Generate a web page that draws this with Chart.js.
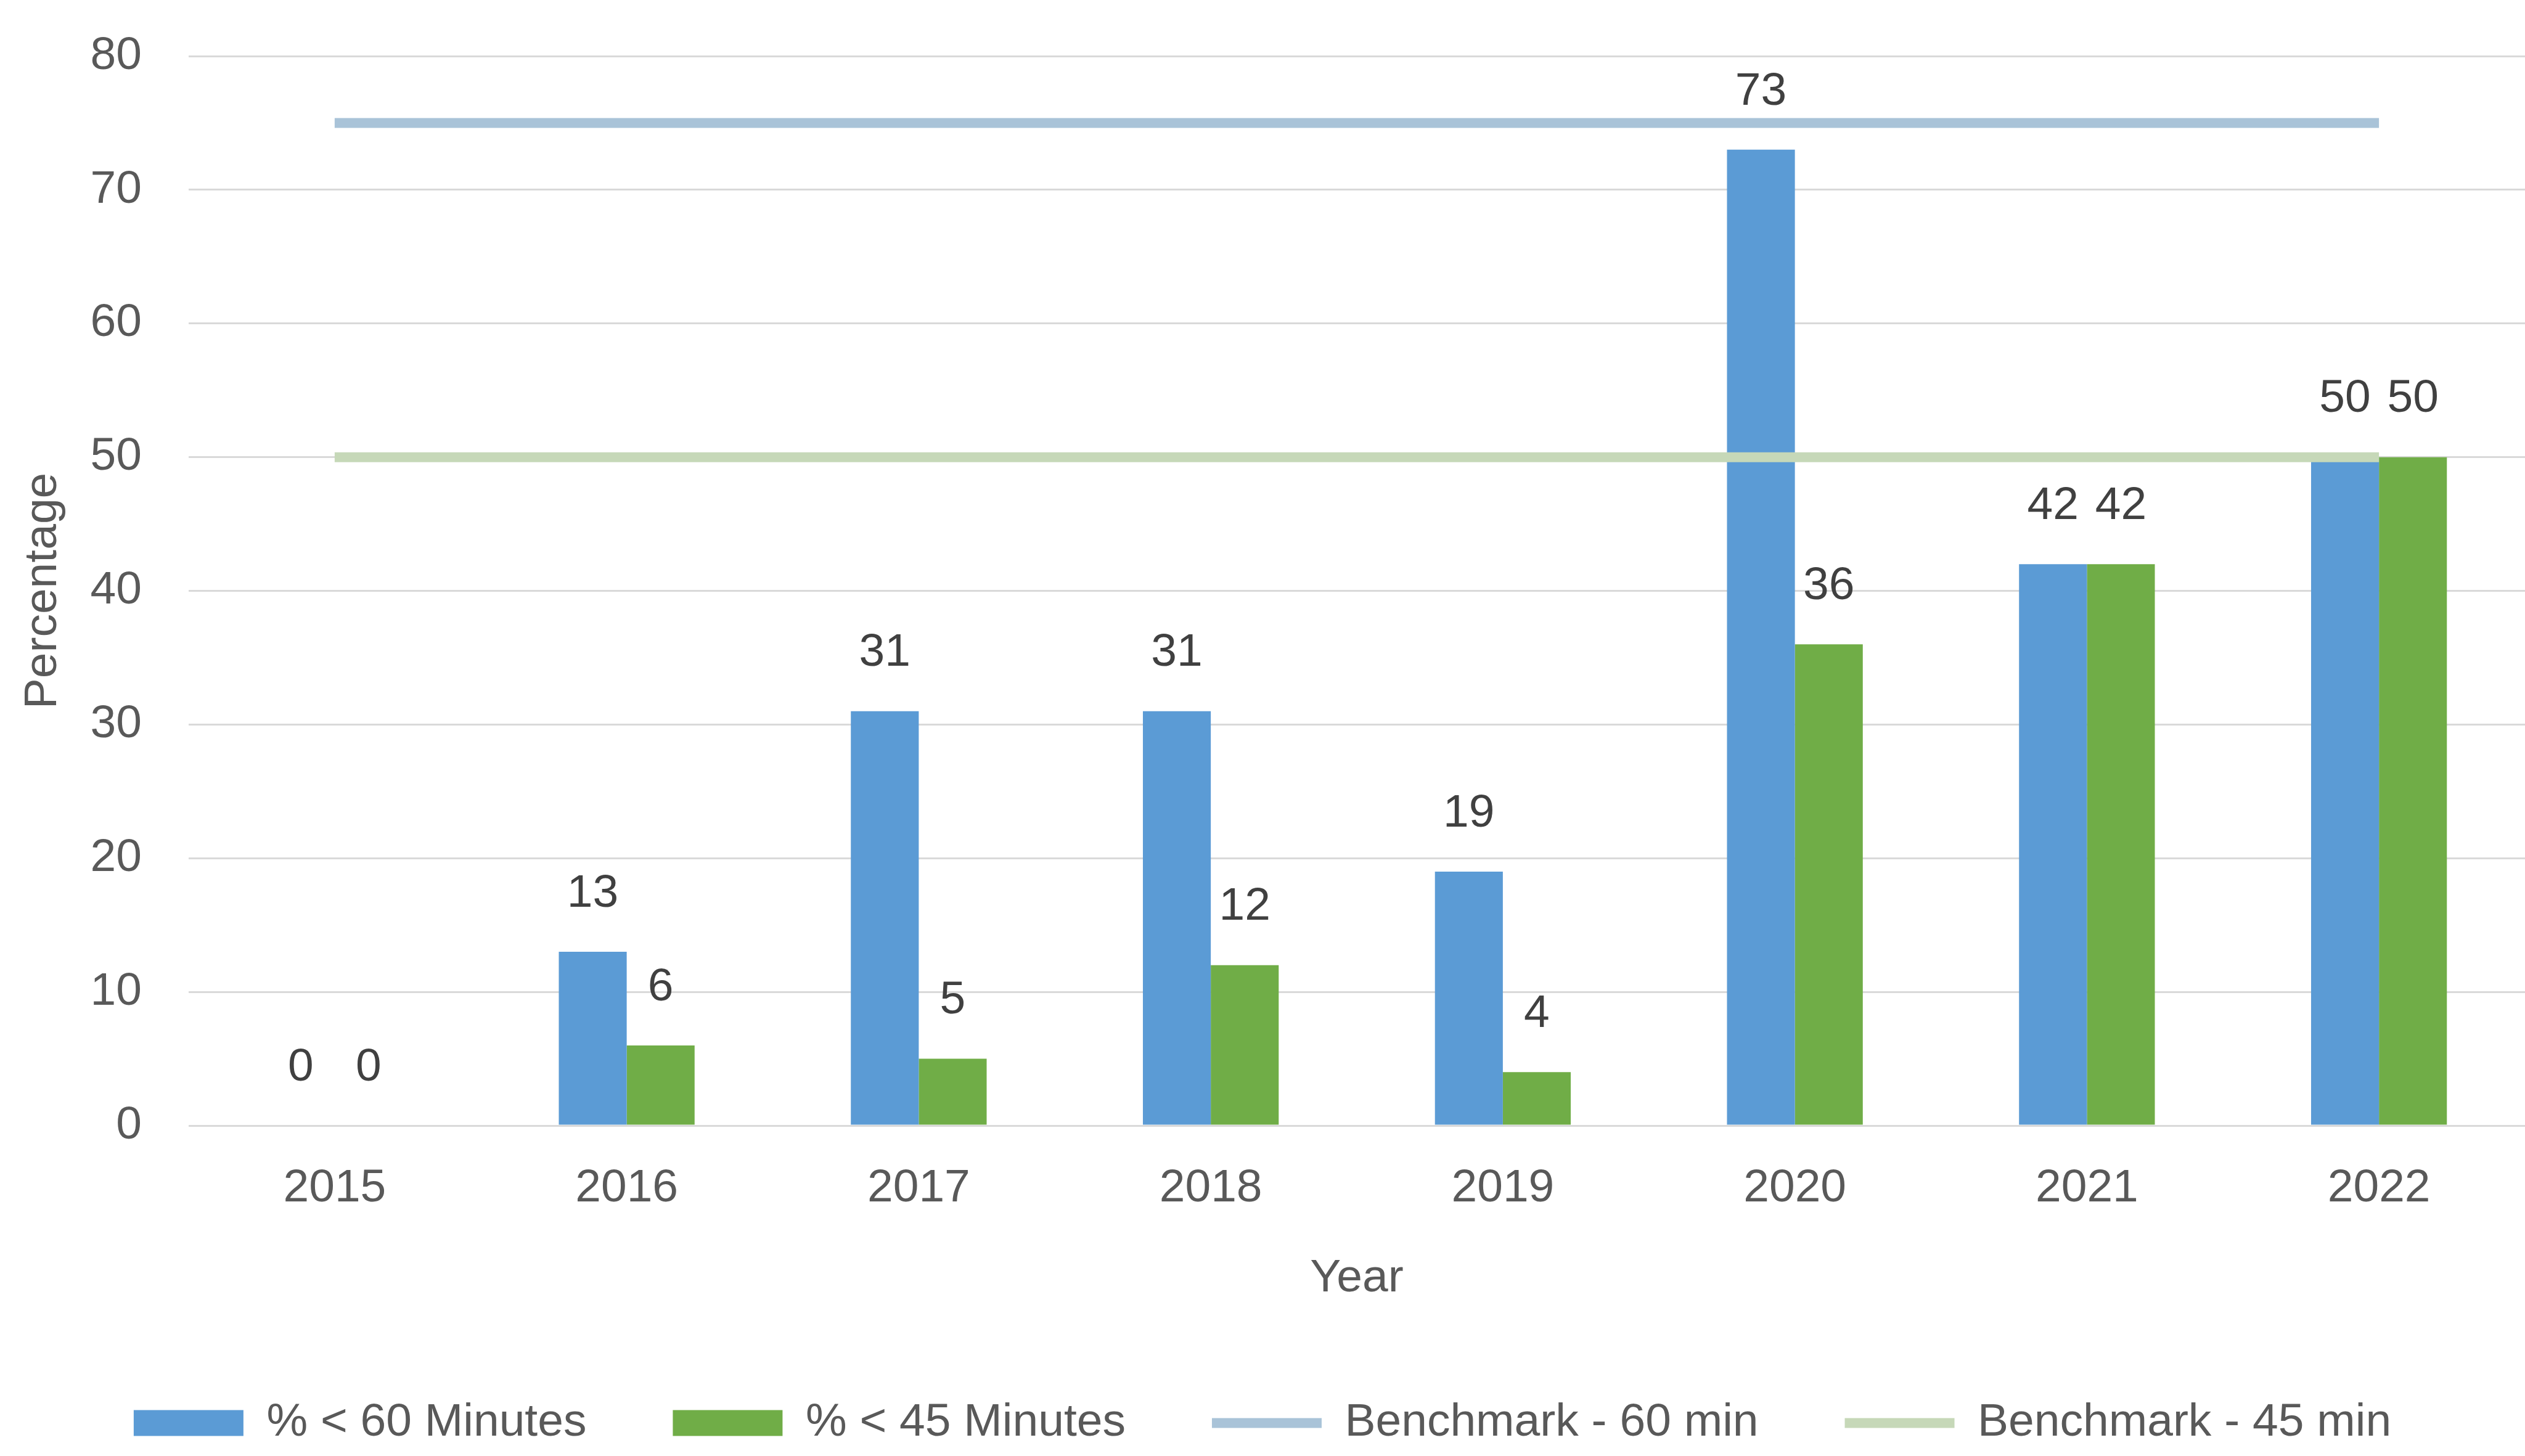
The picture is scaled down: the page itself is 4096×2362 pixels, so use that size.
<!DOCTYPE html>
<html lang="en">
<head>
  <meta charset="UTF-8" />
  <title>Percentage under 60 / 45 minutes by year</title>
  <script src="https://cdn.jsdelivr.net/npm/chart.js"></script>
  <style>
    html, body { margin: 0; padding: 0; background: #fff; }
    #wrap { width: 4096px; height: 2362px; }
  </style>
</head>
<body>
  <div id="wrap"><canvas id="chart" width="4096" height="2362"></canvas></div>

<script>
  // data
  const years = ['2015', '2016', '2017', '2018', '2019', '2020', '2021', '2022'];
  const under60 = [0, 13, 31, 31, 19, 73, 42, 50];
  const under45 = [0, 6, 5, 12, 4, 36, 42, 50];
  const bench60 = [75, 75, 75, 75, 75, 75, 75, 75];
  const bench45 = [50, 50, 50, 50, 50, 50, 50, 50];

  const textColor = '#595959';
  Chart.defaults.font.family = "'Liberation Sans', Arial, sans-serif";
  Chart.defaults.font.size = 75;
  Chart.defaults.color = textColor;

  // value labels over the bars
  const barLabels = {
    id: 'barLabels',
    afterDatasetsDraw(chart) {
      const ctx = chart.ctx;
      ctx.save();
      ctx.font = "75px 'Liberation Sans', Arial, sans-serif";
      ctx.fillStyle = '#404040';
      ctx.textAlign = 'center';
      ctx.textBaseline = 'middle';
      [0, 1].forEach(di => {
        const meta = chart.getDatasetMeta(di);
        meta.data.forEach((bar, i) => {
          ctx.fillText(String(chart.data.datasets[di].data[i]), bar.x, bar.y - 94);
        });
      });
      ctx.restore();
    }
  };

  new Chart(document.getElementById('chart'), {
    data: {
      labels: years,
      datasets: [
        {
          type: 'bar',
          label: '% < 60 Minutes',
          data: under60,
          backgroundColor: '#5B9BD5',
          borderWidth: 0,
          pointStyle: 'rect',
          order: 1
        },
        {
          type: 'bar',
          label: '% < 45 Minutes',
          data: under45,
          backgroundColor: '#70AD47',
          borderWidth: 0,
          pointStyle: 'rect',
          order: 1
        },
        {
          type: 'line',
          label: 'Benchmark - 60 min',
          data: bench60,
          borderColor: '#A9C3D8',
          backgroundColor: '#A9C3D8',
          borderWidth: 16,
          pointRadius: 0,
          pointStyle: 'line',
          fill: false,
          order: 0
        },
        {
          type: 'line',
          label: 'Benchmark - 45 min',
          data: bench45,
          borderColor: '#C6D8B8',
          backgroundColor: '#C6D8B8',
          borderWidth: 16,
          pointRadius: 0,
          pointStyle: 'line',
          fill: false,
          order: 0
        }
      ]
    },
    options: {
      responsive: false,
      animation: false,
      layout: { padding: { top: 91, right: 0, bottom: 6, left: 0 } },
      datasets: {
        bar: { categoryPercentage: 0.465, barPercentage: 1 }
      },
      plugins: {
        tooltip: { enabled: false },
        legend: {
          position: 'bottom',
          labels: {
            usePointStyle: true,
            pointStyleWidth: 178,
            boxHeight: 42,
            padding: 140,
            color: textColor,
            font: { size: 75 },
            sort: (a, b) => a.datasetIndex - b.datasetIndex,
            generateLabels(chart) {
              const items = Chart.defaults.plugins.legend.labels.generateLabels(chart);
              items.forEach(it => {
                const ds = chart.data.datasets[it.datasetIndex];
                it.pointStyle = ds.pointStyle;
                if (ds.type === 'line') {
                  it.lineWidth = 16;
                  it.strokeStyle = ds.borderColor;
                } else {
                  it.lineWidth = 0;
                  it.fillStyle = ds.backgroundColor;
                }
              });
              return items;
            }
          }
        }
      },
      scales: {
        x: {
          grid: { display: false, drawTicks: false },
          border: { display: false },
          ticks: { padding: 57, color: textColor },
          title: {
            display: true,
            text: 'Year',
            color: textColor,
            font: { size: 75 },
            padding: { top: 20, bottom: 12 }
          },
          afterFit(scale) { scale.height = 305; }
        },
        y: {
          min: 0,
          max: 80,
          grid: { color: '#D9D9D9', lineWidth: 3, drawTicks: false },
          border: { display: false },
          ticks: { stepSize: 10, padding: 76, color: textColor },
          title: {
            display: true,
            text: 'Percentage',
            color: textColor,
            font: { size: 75 },
            padding: { top: 25, bottom: 10 }
          },
          afterFit(scale) {
            scale.width = 306;
            scale.paddingTop = 0;
            scale.paddingBottom = 0;
          }
        }
      }
    },
    plugins: [barLabels]
  });
</script>
</body>
</html>
